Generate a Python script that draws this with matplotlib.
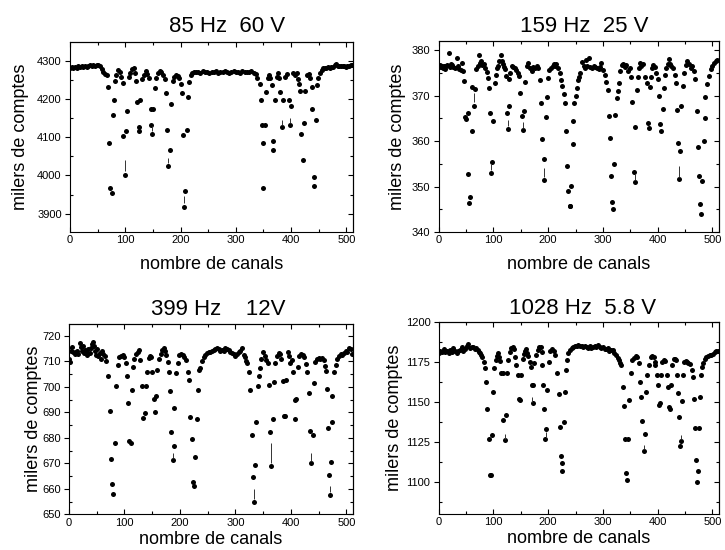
import matplotlib
matplotlib.use("Agg")
import matplotlib.pyplot as plt
from matplotlib.ticker import MultipleLocator

plt.rcParams["font.family"] = ["Liberation Sans", "DejaVu Sans"]

# ---------- données : (canal, milliers de comptes) ----------

pts_85hz = [
    (0, 4281), (3, 4283), (6, 4280), (9, 4284), (12, 4282), (15, 4285), (18, 4283), (21, 4287),
    (24, 4284), (27, 4286), (30, 4283), (33, 4287), (36, 4288), (39, 4286), (42, 4289), (45, 4287),
    (48, 4290), (51, 4289), (54, 4286), (57, 4279), (60, 4271), (63, 4266), (66, 4262),
    (68, 4230), (70, 4084), (73, 3966), (76, 3953), (77, 4158), (79, 4197), (81, 4248), (84, 4262),
    (87, 4275), (90, 4270), (93, 4258),
    (95, 4241), (96, 4103), (100, 4001), (101, 4117), (103, 4169), (106, 4258), (109, 4268),
    (112, 4277), (115, 4280), (118, 4268),
    (120, 4246), (122, 4193), (124, 4126), (125, 4116), (127, 4197), (131, 4251), (134, 4262),
    (137, 4273), (140, 4266),
    (143, 4256), (146, 4174), (147, 4132), (148, 4107), (151, 4174), (153, 4228), (156, 4256),
    (159, 4268), (162, 4272), (165, 4270), (168, 4262),
    (171, 4252), (174, 4215), (176, 4120), (178, 4025), (181, 4066), (183, 4186), (186, 4246),
    (189, 4258), (192, 4262), (195, 4260), (198, 4255),
    (200, 4238), (202, 4216), (204, 4106), (207, 3918), (208, 3958), (211, 4120), (213, 4205),
    (215, 4245), (218, 4262), (221, 4268), (224, 4270),
    (228, 4270), (232, 4271), (236, 4269), (240, 4272), (244, 4270), (248, 4271), (252, 4268),
    (256, 4271), (260, 4270), (264, 4272), (268, 4269), (272, 4271), (276, 4270), (280, 4272),
    (284, 4270), (288, 4269), (292, 4271), (296, 4273), (300, 4270), (304, 4271), (308, 4269),
    (312, 4272), (316, 4270), (320, 4271), (324, 4270), (328, 4272), (332, 4269), (336, 4264),
    (339, 4256), (343, 4240), (346, 4198), (348, 4133), (349, 4084), (350, 3966), (353, 4133),
    (355, 4218), (358, 4254), (360, 4262), (362, 4256),
    (365, 4236), (367, 4091), (368, 4067), (371, 4196), (374, 4258), (377, 4267), (379, 4256),
    (380, 4217), (383, 4126), (386, 4196), (389, 4258), (392, 4265),
    (396, 4196), (398, 4131), (400, 4182), (404, 4267), (407, 4262), (410, 4267), (413, 4252),
    (415, 4240), (417, 4221), (418, 4107), (421, 4040), (423, 4138), (426, 4221), (429, 4262),
    (432, 4265), (434, 4255),
    (437, 4232), (438, 4173), (441, 3997), (442, 3973), (445, 4144), (447, 4236), (449, 4256),
    (452, 4268), (455, 4275), (458, 4280), (461, 4282), (464, 4280), (467, 4283), (470, 4282),
    (473, 4284), (476, 4283), (479, 4288), (481, 4291), (484, 4286), (487, 4285), (490, 4287),
    (493, 4285), (496, 4286), (499, 4284), (502, 4287), (505, 4285), (508, 4288), (511, 4290),
]

pts_159hz = [
    (0, 376.3), (2, 376.8), (4, 376.2), (6, 376.6), (8, 376.0), (10, 376.4), (12, 375.9),
    (14, 376.5), (16, 376.8), (19, 379.3), (21, 376.2), (23, 377.0), (25, 376.8), (27, 376.3),
    (30, 376.0), (33, 378.2), (35, 376.5), (37, 375.8), (40, 375.6), (42, 377.2), (44, 375.4),
    (46, 373.3),
    (48, 365.2), (50, 364.8), (53, 366.1), (54, 352.7), (56, 346.3), (57, 347.6), (60, 362.1),
    (61, 371.8), (65, 367.8), (66, 371.4), (69, 375.8), (71, 376.5), (73, 378.9), (76, 377.2),
    (78, 377.6), (80, 376.8), (82, 377.0), (85, 376.0), (88, 375.2),
    (90, 373.8), (92, 371.6), (93, 366.1), (96, 352.9), (97, 355.3), (100, 364.3), (102, 372.7),
    (104, 374.5), (106, 376.0), (108, 376.5), (110, 377.5), (113, 378.9), (115, 377.5),
    (117, 377.0), (119, 376.3), (121, 375.8),
    (123, 374.3), (124, 366.2), (126, 362.6), (128, 367.6), (129, 373.6), (131, 374.9),
    (133, 376.5), (136, 376.2), (139, 376.0), (142, 375.6), (145, 375.0),
    (147, 374.3), (149, 370.6), (152, 365.4), (154, 362.4), (155, 366.7), (158, 373.0),
    (161, 376.5), (164, 377.2), (167, 376.0), (170, 375.5), (173, 376.3), (176, 376.0),
    (179, 376.5), (182, 376.0),
    (185, 373.4), (187, 368.3), (189, 360.5), (192, 351.5), (193, 356.0), (196, 365.2),
    (198, 369.6), (200, 373.8), (202, 375.6), (205, 376.0), (208, 376.5), (211, 377.0),
    (213, 376.6), (215, 377.0), (218, 376.0), (221, 375.0),
    (223, 373.5), (226, 372.0), (229, 370.3), (231, 368.3), (233, 362.2), (235, 354.4),
    (237, 349.0), (239, 345.7), (240, 345.8), (242, 350.1), (245, 359.3), (246, 364.4),
    (248, 368.4), (250, 370.0), (252, 371.6), (254, 373.4), (256, 374.0), (259, 374.9),
    (262, 377.4), (265, 376.5), (267, 376.0), (269, 377.8), (271, 376.4), (274, 378.2),
    (277, 376.2), (280, 376.0), (283, 376.5), (286, 376.2), (289, 376.0), (292, 375.8),
    (295, 376.3), (297, 377.2), (300, 375.6), (303, 374.5), (306, 373.0), (309, 371.2),
    (312, 365.4), (313, 360.6), (315, 352.4), (317, 346.5), (319, 345.1), (321, 355.0),
    (322, 365.7), (325, 369.4), (327, 371.1), (329, 372.7),
    (331, 375.5), (334, 376.8), (337, 377.0), (340, 376.2), (343, 376.8), (346, 375.5),
    (349, 376.0), (351, 374.1),
    (353, 368.5), (356, 353.3), (358, 350.9), (359, 363.0), (362, 371.2), (364, 374.1),
    (366, 376.0), (368, 377.2), (370, 376.5), (373, 377.0), (376, 374.1),
    (380, 372.8), (382, 363.9), (384, 362.8), (386, 371.8), (388, 374.1), (390, 376.0),
    (392, 376.8), (395, 376.2), (397, 375.0),
    (400, 373.6), (402, 369.8), (404, 363.7), (406, 362.2), (409, 367.0), (411, 371.6),
    (414, 374.6), (416, 376.0), (418, 377.0), (420, 378.0), (422, 377.0), (425, 376.5),
    (428, 376.0), (431, 374.5),
    (433, 372.7), (435, 366.8), (437, 359.5), (439, 351.6), (441, 357.8), (443, 367.7),
    (446, 372.0), (448, 375.0), (451, 376.8), (454, 377.5), (457, 377.0), (460, 376.0),
    (463, 376.5), (466, 375.5),
    (468, 373.6), (471, 366.6), (474, 358.6), (476, 352.4), (478, 346.1), (479, 343.9),
    (481, 351.3), (484, 360.1), (486, 365.1), (487, 369.6), (490, 372.5), (493, 374.2),
    (497, 375.8), (500, 376.5), (503, 377.1), (506, 377.5), (509, 377.8),
]

pts_399hz = [
    (0, 711.0), (2, 709.6), (4, 714.0), (6, 715.7), (8, 713.5), (10, 712.8), (12, 713.5),
    (14, 714.2), (16, 713.0), (19, 717.0), (21, 715.5), (23, 714.0), (25, 715.8), (27, 713.2),
    (29, 714.5), (31, 713.8), (33, 712.5), (35, 714.6), (37, 713.4), (39, 715.2), (41, 716.8),
    (43, 717.6), (45, 715.8), (47, 714.0), (49, 712.5), (51, 714.8), (53, 712.0), (55, 713.4),
    (58, 711.0), (60, 714.2), (62, 712.8), (64, 712.0), (67, 710.0),
    (70, 704.3), (73, 690.5), (75, 671.7), (77, 661.9), (80, 658.0), (83, 678.0), (85, 700.3),
    (88, 708.5), (91, 711.5), (94, 712.0), (97, 712.4), (100, 711.8),
    (103, 709.2), (105, 704.2), (107, 693.7), (109, 678.7), (111, 677.8), (113, 698.6),
    (115, 707.9), (118, 711.0), (121, 713.0), (124, 713.8), (126, 714.4),
    (128, 710.5), (132, 700.4), (134, 687.6), (137, 689.6), (138, 700.4), (141, 705.9),
    (144, 711.1), (146, 712.0), (148, 711.8),
    (150, 705.6), (153, 695.2), (155, 690.2), (156, 696.5), (159, 706.5), (162, 711.0),
    (165, 713.0), (168, 714.5), (171, 715.0), (173, 714.2), (175, 712.5),
    (178, 709.8), (180, 705.6), (182, 698.5), (184, 682.4), (187, 671.3), (189, 676.9),
    (190, 691.8), (193, 705.2), (196, 709.2), (199, 712.5), (202, 713.0), (205, 712.4),
    (208, 711.5),
    (211, 710.5), (214, 705.6), (217, 702.6), (219, 688.0), (221, 679.5), (224, 662.8),
    (226, 661.1), (228, 672.6), (230, 687.3), (232, 698.7), (234, 706.5), (237, 707.5),
    (240, 710.0), (243, 711.5), (246, 712.5), (249, 713.2), (252, 713.8), (255, 713.5),
    (258, 714.0), (261, 714.3), (264, 714.8), (267, 715.0), (270, 714.6), (273, 714.2),
    (276, 714.5), (279, 714.0), (282, 715.0), (285, 714.6), (288, 714.3), (291, 713.8),
    (294, 713.2), (297, 712.8), (300, 712.0), (303, 712.8), (306, 713.5), (309, 714.2),
    (312, 715.0), (315, 712.5), (317, 711.8), (319, 710.0), (321, 709.2),
    (324, 705.6), (327, 698.7), (329, 681.0), (332, 664.8), (334, 655.0), (335, 669.3),
    (338, 686.0), (340, 700.4), (342, 704.2), (344, 707.2), (347, 711.0), (350, 713.5),
    (353, 712.0), (356, 710.5),
    (359, 709.2), (361, 700.7), (363, 682.4), (365, 669.0), (367, 687.2), (369, 702.0),
    (372, 709.2), (375, 712.0), (378, 713.4), (381, 713.0), (383, 711.0),
    (385, 702.4), (387, 688.5), (389, 688.7), (392, 702.6), (394, 713.7), (397, 712.0),
    (399, 709.5), (402, 710.5),
    (404, 705.9), (407, 694.8), (408, 687.2), (410, 695.2), (412, 707.9), (415, 712.0),
    (418, 713.0), (421, 712.5), (424, 711.5), (427, 709.0),
    (429, 705.9), (433, 697.4), (435, 682.6), (437, 670.0), (439, 681.0), (441, 701.3),
    (444, 709.8), (447, 710.8), (450, 711.2), (453, 711.0), (456, 711.3), (459, 710.5),
    (461, 708.0),
    (463, 706.2), (465, 699.0), (467, 684.0), (469, 665.4), (470, 657.6), (472, 670.4),
    (474, 686.3), (475, 696.5), (478, 705.9), (481, 708.5), (484, 710.8), (487, 712.0),
    (490, 713.0), (493, 712.5), (496, 713.2), (499, 714.0), (502, 713.5), (505, 715.2),
    (508, 714.8), (511, 713.0),
]

pts_1028hz = [
    (0, 1180.5), (3, 1182.0), (6, 1181.2), (9, 1183.0), (12, 1180.8), (15, 1181.5),
    (18, 1180.2), (21, 1182.3), (24, 1181.0), (27, 1183.5), (30, 1182.0), (33, 1180.5),
    (36, 1181.8), (39, 1182.5), (42, 1184.4), (45, 1182.0), (48, 1183.2), (51, 1184.8),
    (54, 1185.8), (57, 1183.5), (60, 1184.2), (63, 1184.4), (66, 1182.8), (69, 1183.5),
    (71, 1182.3), (73, 1181.0), (75, 1180.2), (77, 1179.5), (79, 1178.0),
    (82, 1174.6), (84, 1171.3), (87, 1162.5), (89, 1145.8), (91, 1127.0), (94, 1104.6),
    (96, 1104.2), (97, 1129.2), (100, 1156.3), (101, 1170.8), (104, 1176.0), (106, 1178.5),
    (108, 1180.5), (110, 1178.0), (112, 1175.5),
    (114, 1167.7), (117, 1167.7), (118, 1138.5), (121, 1126.0), (123, 1141.7), (125, 1167.7),
    (127, 1176.0), (130, 1181.0), (132, 1183.5), (135, 1184.4), (137, 1183.0), (139, 1178.0),
    (141, 1172.9), (144, 1166.7), (147, 1152.0), (149, 1151.0), (151, 1167.0), (154, 1177.0),
    (156, 1180.0), (158, 1182.0), (160, 1183.0), (162, 1180.5), (164, 1178.5), (166, 1175.0),
    (168, 1171.9), (170, 1160.4), (172, 1149.0), (173, 1160.4), (175, 1174.0), (178, 1179.5),
    (181, 1182.5), (184, 1184.0), (186, 1184.5), (188, 1181.0),
    (189, 1172.9), (191, 1160.4), (193, 1145.8), (195, 1127.0), (196, 1133.0), (198, 1157.3),
    (201, 1175.0), (204, 1182.0), (207, 1183.0), (210, 1181.5), (213, 1179.0),
    (217, 1167.7), (220, 1154.8), (221, 1134.4), (223, 1116.3), (225, 1106.7), (226, 1112.0),
    (228, 1137.5), (230, 1156.3), (232, 1169.8), (234, 1176.0), (237, 1180.2), (240, 1182.5),
    (243, 1183.5), (246, 1184.5),
    (249, 1185.0), (252, 1184.6), (255, 1185.2), (258, 1184.8), (261, 1185.0), (264, 1184.3),
    (267, 1185.0), (270, 1184.5), (273, 1183.8), (276, 1184.6), (279, 1183.5), (282, 1184.2),
    (285, 1185.0), (288, 1184.4), (291, 1185.2), (294, 1184.0), (297, 1183.5), (300, 1184.2),
    (303, 1183.0), (306, 1182.8), (309, 1183.5), (312, 1181.5), (315, 1182.5), (318, 1182.3),
    (321, 1180.5), (324, 1179.0), (327, 1177.5), (329, 1176.0), (331, 1174.5), (333, 1173.0),
    (336, 1159.4), (338, 1147.3), (340, 1126.5), (342, 1105.8), (344, 1101.0), (346, 1126.5),
    (348, 1151.0), (351, 1167.7), (354, 1176.0), (357, 1177.5), (360, 1178.5), (363, 1178.0),
    (365, 1174.0),
    (367, 1162.5), (370, 1152.7), (372, 1137.9), (375, 1119.4), (376, 1130.2), (378, 1156.3),
    (381, 1166.7), (384, 1172.9), (387, 1178.0), (390, 1178.5), (393, 1178.0), (395, 1175.0),
    (396, 1172.9), (399, 1166.7), (401, 1160.4), (402, 1148.0), (404, 1149.0), (406, 1166.7),
    (408, 1175.0), (411, 1176.0), (414, 1175.4),
    (417, 1166.7), (419, 1159.4), (420, 1146.9), (422, 1145.8), (425, 1160.4), (427, 1172.9),
    (429, 1176.5), (431, 1177.0), (433, 1176.0),
    (435, 1166.7), (437, 1155.2), (439, 1140.6), (441, 1122.5), (442, 1125.6), (444, 1150.4),
    (446, 1167.0), (449, 1174.6), (451, 1175.5), (453, 1175.0), (456, 1174.0), (459, 1173.3),
    (462, 1169.8), (465, 1165.6), (466, 1152.0), (468, 1133.7), (470, 1113.5), (472, 1100.0),
    (474, 1106.7), (475, 1133.7), (477, 1153.0), (479, 1166.7), (481, 1171.9), (483, 1174.5),
    (486, 1177.0), (489, 1178.0), (492, 1178.5), (495, 1179.0), (498, 1179.5), (501, 1180.0),
    (504, 1181.0), (507, 1181.5), (510, 1182.0),
]

# petites barres d'erreur visibles au-dessus de certains points : (canal, bas, haut)
err_85hz = [(100, 4012, 4040), (207, 3928, 3945), (178, 4033, 4046), (148, 4115, 4128),
            (383, 4133, 4146), (398, 4138, 4150)]
err_159hz = [(65, 368.5, 370.5), (96, 353.6, 355.0), (126, 363.2, 364.6), (154, 362.9, 364.2),
             (192, 352.1, 354.0), (358, 351.5, 352.8), (439, 352.2, 354.5)]
err_399hz = [(365, 670.0, 678.0), (334, 656.0, 660.0), (437, 671.0, 674.0), (187, 672.0, 674.0),
             (470, 658.6, 661.0)]
err_1028hz = [(121, 1127.0, 1130.0), (170, 1150.0, 1153.0), (196, 1128.0, 1131.0),
              (375, 1120.5, 1123.0), (442, 1126.5, 1129.0)]

titles = ["85 Hz  60 V", "159 Hz  25 V", "399 Hz    12V", "1028 Hz  5.8 V"]

# ---------- mise en page (fractions de la figure) ----------

PANELS = [
    dict(pts=pts_85hz, err=err_85hz, title=titles[0], ylim=(3852, 4349), major=100, minor=50,
         rect=[0.0966, 0.5782, 0.3903, 0.3455], title_xy=(0.555, 1.05),
         ylab_x=-0.145, xlab_y=-0.125),
    dict(pts=pts_159hz, err=err_159hz, title=titles[1], ylim=(340, 382), major=10, minor=5,
         rect=[0.6051, 0.5782, 0.3866, 0.3473], title_xy=(0.52, 1.048),
         ylab_x=-0.118, xlab_y=-0.125),
    dict(pts=pts_399hz, err=err_399hz, title=titles[2], ylim=(650, 724.7), major=10, minor=5,
         rect=[0.0952, 0.0649, 0.3917, 0.3465], title_xy=(0.525, 1.046),
         ylab_x=-0.095, xlab_y=-0.085),
    dict(pts=pts_1028hz, err=err_1028hz, title=titles[3], ylim=(1080, 1200), major=25,
         minor=12.5, rect=[0.6051, 0.0655, 0.3866, 0.3496], title_xy=(0.515, 1.04),
         ylab_x=-0.128, xlab_y=-0.085),
]


def draw_panel(fig, p):
    ax = fig.add_axes(p["rect"])
    ch, val = zip(*p["pts"])
    ax.plot(ch, val, "o", color="black", ms=3.6, mew=0)
    e_ch, e_lo, e_hi = zip(*p["err"])
    ax.vlines(e_ch, e_lo, e_hi, color="#333333", lw=0.7)

    ax.set_xlim(0, 512)
    ax.set_ylim(*p["ylim"])
    ax.xaxis.set_major_locator(MultipleLocator(100))
    ax.xaxis.set_minor_locator(MultipleLocator(50))
    ax.yaxis.set_major_locator(MultipleLocator(p["major"]))
    ax.yaxis.set_minor_locator(MultipleLocator(p["minor"]))
    ax.tick_params(which="both", labelsize=8, width=0.8, pad=2.5)
    ax.tick_params(axis="x", which="both", direction="in")
    ax.tick_params(axis="x", which="major", length=3.5)
    ax.tick_params(axis="x", which="minor", length=2.5)
    ax.tick_params(axis="y", which="major", direction="out", length=3.5)
    ax.tick_params(axis="y", which="minor", direction="in", length=2.5)
    for s in ax.spines.values():
        s.set_linewidth(0.8)

    # graduations en haut et à droite, vers l'intérieur, sans étiquettes
    top = ax.secondary_xaxis("top")
    top.xaxis.set_major_locator(MultipleLocator(100))
    top.xaxis.set_minor_locator(MultipleLocator(50))
    top.tick_params(which="both", direction="in", labeltop=False, width=0.8)
    top.tick_params(which="major", length=3.5)
    top.tick_params(which="minor", length=2.5)
    right = ax.secondary_yaxis("right")
    right.yaxis.set_major_locator(MultipleLocator(p["major"]))
    right.yaxis.set_minor_locator(MultipleLocator(p["minor"]))
    right.tick_params(which="both", direction="in", labelright=False, width=0.8)
    right.tick_params(which="major", length=3.5)
    right.tick_params(which="minor", length=2.5)

    ax.set_xlabel("nombre de canals", fontsize=13)
    ax.set_ylabel("milers de comptes", fontsize=13)
    ax.xaxis.set_label_coords(0.5, p["xlab_y"])
    ax.yaxis.set_label_coords(p["ylab_x"], 0.5)
    tx, ty = p["title_xy"]
    ax.text(tx, ty, p["title"], transform=ax.transAxes, ha="center",
            va="baseline", fontsize=16)


fig = plt.figure(figsize=(7.25, 5.5), dpi=100)
for p in PANELS:
    draw_panel(fig, p)
fig.savefig("out.png", dpi=100)
